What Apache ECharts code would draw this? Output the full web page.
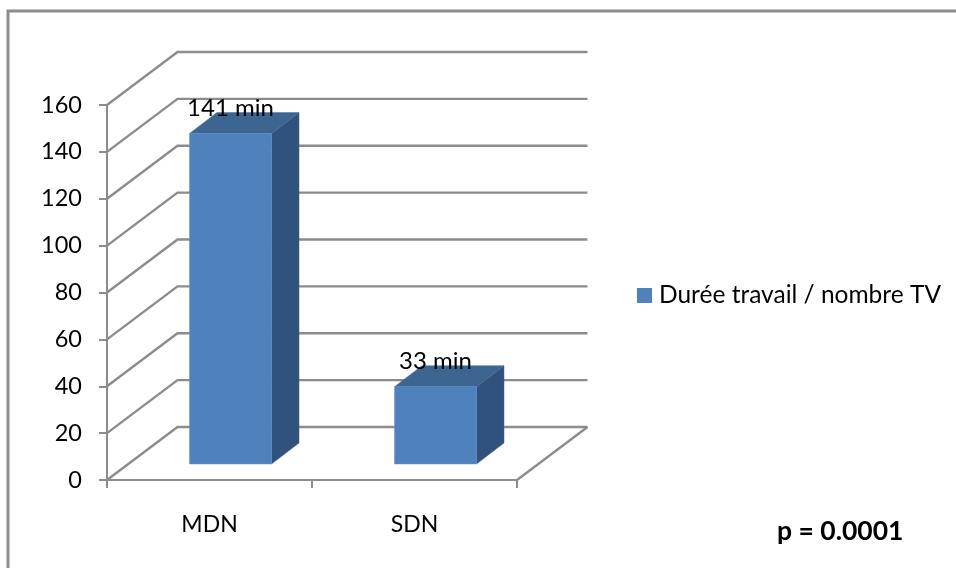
<!DOCTYPE html>
<html><head><meta charset="utf-8">
<style>html,body{margin:0;padding:0;background:#fff}#c{width:956px;height:568px}</style>
<script src="https://cdn.jsdelivr.net/npm/echarts@6/dist/echarts.min.js"></script>
</head><body><div id="c"></div>
<script>
var categories = ['MDN', 'SDN'];
var values = [141, 33];
var labels = ['141 min', '33 min'];
var yTicks = [0, 20, 40, 60, 80, 100, 120, 140, 160];
var seriesName = 'Durée travail / nombre TV';
var pText = 'p = 0.0001';

var FONT = 'Lato, "Open Sans", sans-serif';
var GRID = '#8c8c8c';
var depth = [70.5, -53];
var barDepth = [27.5, -21];
var barOffset = [21, -16];
var barHalf = 41;

var chart = echarts.init(document.getElementById('c'), null, {renderer: 'canvas'});

function wallItem(params, api) {
  var v = api.value(0);
  var left = api.coord([0, v]);
  left[0] = params.coordSys.x;
  var right = params.coordSys.x + params.coordSys.width;
  var children = [{
    type: 'polyline',
    shape: {points: [left, [left[0] + depth[0], left[1] + depth[1]], [right + depth[0], left[1] + depth[1]]]},
    style: {stroke: GRID, lineWidth: 2.4, fill: null}
  }];
  if (v === 0) {
    children.push({
      type: 'line',
      shape: {x1: right, y1: left[1], x2: right + depth[0], y2: left[1] + depth[1]},
      style: {stroke: GRID, lineWidth: 2.4}
    });
  }
  return {type: 'group', children: children};
}

function barItem(params, api) {
  var i = api.value(0);
  var val = api.value(1);
  var base = api.coord([i, 0]);
  var top = api.coord([i, val]);
  var x0 = base[0] + barOffset[0] - barHalf, x1 = base[0] + barOffset[0] + barHalf;
  var yb = base[1] + barOffset[1], yt = top[1] + barOffset[1];
  var dx = barDepth[0], dy = barDepth[1];
  return {type: 'group', children: [
    {type: 'polygon', shape: {points: [[x1, yt], [x1 + dx, yt + dy], [x1 + dx, yb + dy], [x1, yb]]},
     style: {fill: '#31527c', stroke: '#3a6190', lineWidth: 0.5}},
    {type: 'polygon', shape: {points: [[x0, yt], [x0 + dx, yt + dy], [x1 + dx, yt + dy], [x1, yt]]},
     style: {fill: '#3d6592', stroke: '#46709f', lineWidth: 0.5}},
    {type: 'rect', shape: {x: x0, y: yt, width: x1 - x0, height: yb - yt},
     style: {fill: '#4f81bd', stroke: '#6593c7', lineWidth: 0.5}},
    {type: 'text', x: base[0] + barOffset[0], y: yt - 25, z2: 10,
     style: {text: labels[i], fill: '#000', font: '24px ' + FONT, textAlign: 'center', textVerticalAlign: 'middle'}}
  ]};
}

chart.setOption({
  animation: false,
  backgroundColor: '#fff',
  grid: {left: 107, right: 439, top: 105, bottom: 88, containLabel: false},
  legend: {
    left: 632, top: 278, itemWidth: 15, itemHeight: 15, icon: 'rect', itemGap: 0,
    textStyle: {fontFamily: FONT, fontSize: 24.5, color: '#000', padding: [2, 0, 0, 2]},
    data: [{name: seriesName, itemStyle: {color: '#4f81bd'}}]
  },
  xAxis: {
    type: 'category', data: categories, boundaryGap: true,
    axisLine: {lineStyle: {color: GRID, width: 2}},
    axisTick: {show: true, length: 8, alignWithLabel: false, lineStyle: {color: GRID, width: 2}},
    axisLabel: {color: '#000', fontFamily: FONT, fontSize: 23, margin: 33},
    splitLine: {show: false}
  },
  yAxis: {
    type: 'value', min: 0, max: 160, interval: 20,
    axisLine: {show: true, lineStyle: {color: GRID, width: 2}},
    axisTick: {show: true, length: 8, lineStyle: {color: GRID, width: 2}},
    axisLabel: {color: '#000', fontFamily: FONT, fontSize: 23.5, margin: 25},
    splitLine: {show: false}
  },
  series: [
    {type: 'custom', name: 'walls', silent: true, z: 1, renderItem: wallItem, clip: false,
     data: yTicks.map(function (t) { return [t]; }), encode: {y: 0}, legendHoverLink: false},
    {type: 'custom', name: seriesName, z: 3, renderItem: barItem, clip: false,
     itemStyle: {color: '#4f81bd'},
     data: values.map(function (v, i) { return [i, v]; }), encode: {x: 0, y: 1}}
  ],
  graphic: [
    {type: 'polyline', silent: true, z: 0,
     shape: {points: [[8, 568], [8, 11], [956, 11]]},
     style: {stroke: '#8c8c8c', lineWidth: 3, fill: null}},
    {type: 'text', left: 777, top: 518, z: 10,
     style: {text: pText, fill: '#000', font: 'bold 26.5px ' + FONT}}
  ]
});
</script></body></html>
